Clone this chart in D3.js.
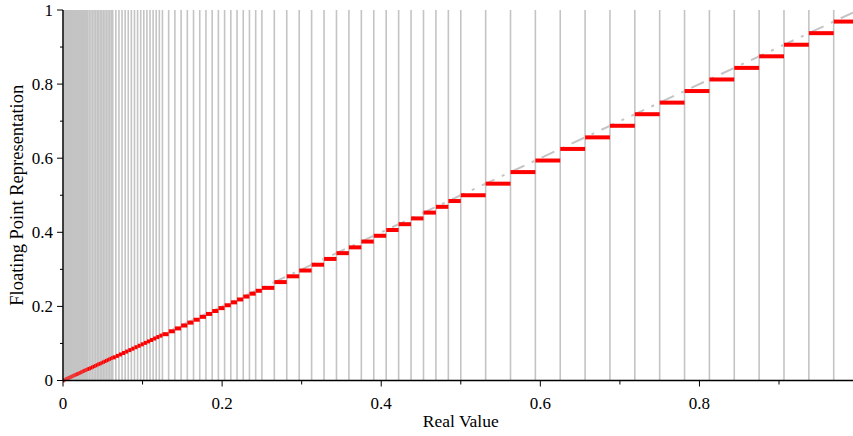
<!DOCTYPE html>
<html>
<head>
<meta charset="utf-8">
<script src="https://cdn.jsdelivr.net/npm/d3@7"></script>
<style>
  html, body { margin: 0; padding: 0; background: #fff; }
  svg { display: block; }
  text { font-family: "Liberation Serif", "Times New Roman", serif; }
</style>
</head>
<body>
<svg id="chart"></svg>
<script>
// mantissa values of one binade (4 fraction bits), read from the [0.5, 1) steps
const mantissas = [0.5, 0.53125, 0.5625, 0.59375, 0.625, 0.65625, 0.6875, 0.71875,
                   0.75, 0.78125, 0.8125, 0.84375, 0.875, 0.90625, 0.9375, 0.96875];
// binade scale factors shown on the chart
const binades = [1, 1/2, 1/4, 1/8, 1/16, 1/32, 1/64, 1/128, 1/256];
const xTicksMajor = [0, 0.2, 0.4, 0.6, 0.8];
const xTicksMinor = [0.1, 0.3, 0.5, 0.7, 0.9];
const yTicksMajor = [0, 0.2, 0.4, 0.6, 0.8, 1];
const yTicksMinor = [0.1, 0.3, 0.5, 0.7, 0.9];

// representable values = mantissa x binade scale, plus zero
var values = [0];
binades.forEach(function (b) {
    mantissas.forEach(function (m) { values.push(m * b); });
});
values.sort(function (a, b) { return a - b; });

var W = 853, H = 436;
var M = { top: 10, right: 0, bottom: 55.5, left: 63 };

var svg = d3.select('#chart').attr('width', W).attr('height', H);

var x = d3.scaleLinear().domain([0, 0.993]).range([M.left, W - M.right]);
var y = d3.scaleLinear().domain([0, 1]).range([H - M.bottom, M.top]);

// grid of representable values
svg.append('g')
    .selectAll('line')
    .data(values.filter(function (v) { return v > 0; }))
    .join('line')
    .attr('x1', function (d) { return x(d); })
    .attr('x2', function (d) { return x(d); })
    .attr('y1', y(0))
    .attr('y2', y(1))
    .attr('stroke', '#c4c4c4')
    .attr('stroke-width', 1.6);

// identity line
svg.append('line')
    .attr('x1', x(0)).attr('y1', y(0))
    .attr('x2', x(0.993)).attr('y2', y(0.993))
    .attr('stroke', '#c4c4c4')
    .attr('stroke-width', 2)
    .attr('stroke-dasharray', '14,8,3,8');

// staircase: each value held until the next one
var steps = values.map(function (v, i) {
    return { v: v, next: i < values.length - 1 ? values[i + 1] : 1 };
});
svg.append('g')
    .selectAll('line')
    .data(steps)
    .join('line')
    .attr('x1', function (d) { return x(d.v); })
    .attr('x2', function (d) { return Math.min(x(d.next), W); })
    .attr('y1', function (d) { return y(d.v); })
    .attr('y2', function (d) { return y(d.v); })
    .attr('stroke', '#ff0000')
    .attr('stroke-width', 4);

// x axis
var xg = svg.append('g').attr('transform', 'translate(0,' + y(0) + ')');
xg.append('line')
    .attr('x1', x(0)).attr('x2', W)
    .attr('stroke', '#000').attr('stroke-width', 1.5);
xg.selectAll('.maj').data(xTicksMajor).join('line')
    .attr('x1', function (d) { return x(d); }).attr('x2', function (d) { return x(d); })
    .attr('y1', 0).attr('y2', 6)
    .attr('stroke', '#000').attr('stroke-width', 1);
xg.selectAll('.min').data(xTicksMinor).join('line')
    .attr('x1', function (d) { return x(d); }).attr('x2', function (d) { return x(d); })
    .attr('y1', 0).attr('y2', 4)
    .attr('stroke', '#000').attr('stroke-width', 1);
xg.selectAll('text').data(xTicksMajor).join('text')
    .attr('x', function (d) { return x(d); })
    .attr('y', 28)
    .attr('text-anchor', 'middle')
    .attr('font-size', 17)
    .text(function (d) { return d3.format('~g')(d); });

// y axis
var yg = svg.append('g').attr('transform', 'translate(' + x(0) + ',0)');
yg.append('line')
    .attr('y1', y(0)).attr('y2', y(1))
    .attr('stroke', '#000').attr('stroke-width', 1.5);
yg.selectAll('.maj').data(yTicksMajor).join('line')
    .attr('y1', function (d) { return y(d); }).attr('y2', function (d) { return y(d); })
    .attr('x1', 0).attr('x2', -6)
    .attr('stroke', '#000').attr('stroke-width', 1);
yg.selectAll('.min').data(yTicksMinor).join('line')
    .attr('y1', function (d) { return y(d); }).attr('y2', function (d) { return y(d); })
    .attr('x1', 0).attr('x2', -3)
    .attr('stroke', '#000').attr('stroke-width', 1);
yg.selectAll('text').data(yTicksMajor).join('text')
    .attr('x', -10)
    .attr('y', function (d) { return y(d); })
    .attr('dy', '0.33em')
    .attr('text-anchor', 'end')
    .attr('font-size', 17)
    .text(function (d) { return d3.format('~g')(d); });

// titles
svg.append('text')
    .attr('x', x(0.5)).attr('y', 427)
    .attr('text-anchor', 'middle')
    .attr('font-size', 17.5)
    .text('Real Value');

svg.append('text')
    .attr('transform', 'translate(23,' + ((y(0) + y(1)) / 2) + ') rotate(-90)')
    .attr('text-anchor', 'middle')
    .attr('font-size', 18.5)
    .text('Floating Point Representation');
</script>
</body>
</html>
